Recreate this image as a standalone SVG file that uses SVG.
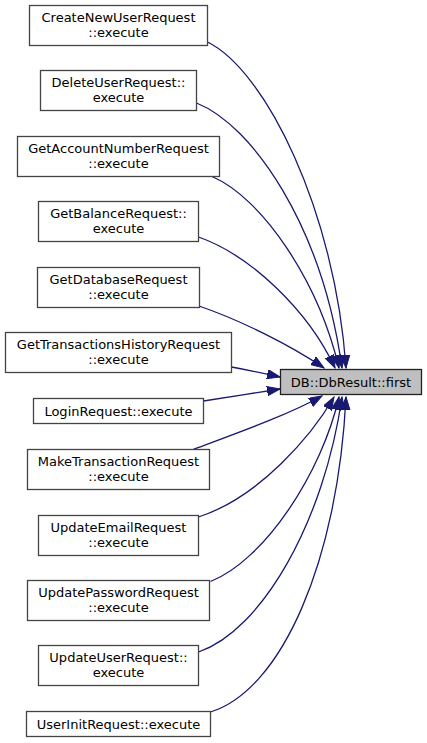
<svg xmlns="http://www.w3.org/2000/svg" width="427" height="743" viewBox="0 0 427 743">
<style>
.node rect{fill:#ffffff;stroke:#444444;stroke-width:1.3}
#target rect{fill:#bfbfbf;stroke:#222222}
text{font-family:"DejaVu Sans","Liberation Sans",sans-serif;font-size:13px;fill:#000000;text-anchor:middle}
.edge{fill:none;stroke:#191970;stroke-width:1.3;marker-end:url(#arrow)}
</style>
<defs>
<marker id="arrow" markerUnits="userSpaceOnUse" markerWidth="14" markerHeight="10" refX="13" refY="4.7" orient="auto">
<path d="M0,0 L13,4.7 L0,9.4 z" fill="#191970" stroke="#191970" stroke-width="1"/>
</marker>
</defs>
<g id="connectors">
<path class="edge" d="M207.5,42 C265,70 335,210 346,368"/>
<path class="edge" d="M196.5,103 C252,125 322,225 342,368"/>
<path class="edge" d="M212,176.5 C262,198 318,280 339,368"/>
<path class="edge" d="M198.5,237 C250,255 308,310 335,368"/>
<path class="edge" d="M199,306 C240,320 290,345 324,368"/>
<path class="edge" d="M231.5,367 C248,370 262,373 280,377"/>
<path class="edge" d="M203.5,401 C228,397 255,393 280,389"/>
<path class="edge" d="M193,449.5 C240,432 290,414 322,396"/>
<path class="edge" d="M198.5,517 C260,497 312,435 334,397"/>
<path class="edge" d="M210.5,581.5 C265,560 322,472 339,397"/>
<path class="edge" d="M198.5,652 C262,630 324,522 342,397"/>
<path class="edge" d="M210.5,712 C282,690 338,560 346,397"/>
</g>
<g id="create" class="node"><rect x="29.5" y="5.5" width="178" height="40"/><text x="118.5" y="22">CreateNewUserRequest</text><text x="118.5" y="37">::execute</text></g>
<g id="delete" class="node"><rect x="40.5" y="70.5" width="156" height="40"/><text x="118.5" y="87">DeleteUserRequest::</text><text x="118.5" y="102">execute</text></g>
<g id="getaccount" class="node"><rect x="17.5" y="136.5" width="202" height="40"/><text x="118.5" y="153">GetAccountNumberRequest</text><text x="118.5" y="168">::execute</text></g>
<g id="getbalance" class="node"><rect x="38.5" y="201.5" width="160" height="40"/><text x="118.5" y="218">GetBalanceRequest::</text><text x="118.5" y="233">execute</text></g>
<g id="getdatabase" class="node"><rect x="37.5" y="267.5" width="162" height="40"/><text x="118.5" y="284">GetDatabaseRequest</text><text x="118.5" y="299">::execute</text></g>
<g id="gettransactions" class="node"><rect x="5.5" y="332.5" width="226" height="40"/><text x="118.5" y="349">GetTransactionsHistoryRequest</text><text x="118.5" y="364">::execute</text></g>
<g id="login" class="node"><rect x="33.5" y="398.5" width="170" height="25"/><text x="118.5" y="415.5">LoginRequest::execute</text></g>
<g id="maketransaction" class="node"><rect x="27.5" y="449.5" width="182" height="40"/><text x="118.5" y="466">MakeTransactionRequest</text><text x="118.5" y="481">::execute</text></g>
<g id="updateemail" class="node"><rect x="38.5" y="515.5" width="160" height="40"/><text x="118.5" y="532">UpdateEmailRequest</text><text x="118.5" y="547">::execute</text></g>
<g id="updatepassword" class="node"><rect x="27.5" y="580.5" width="182" height="40"/><text x="118.5" y="597">UpdatePasswordRequest</text><text x="118.5" y="612">::execute</text></g>
<g id="updateuser" class="node"><rect x="38.5" y="645.5" width="160" height="40"/><text x="118.5" y="662">UpdateUserRequest::</text><text x="118.5" y="677">execute</text></g>
<g id="userinit" class="node"><rect x="26.5" y="711.5" width="184" height="25"/><text x="118.5" y="728.5">UserInitRequest::execute</text></g>
<g id="target" class="node"><rect x="280.5" y="369.5" width="141" height="25"/><text x="351" y="386.5">DB::DbResult::first</text></g>
</svg>
